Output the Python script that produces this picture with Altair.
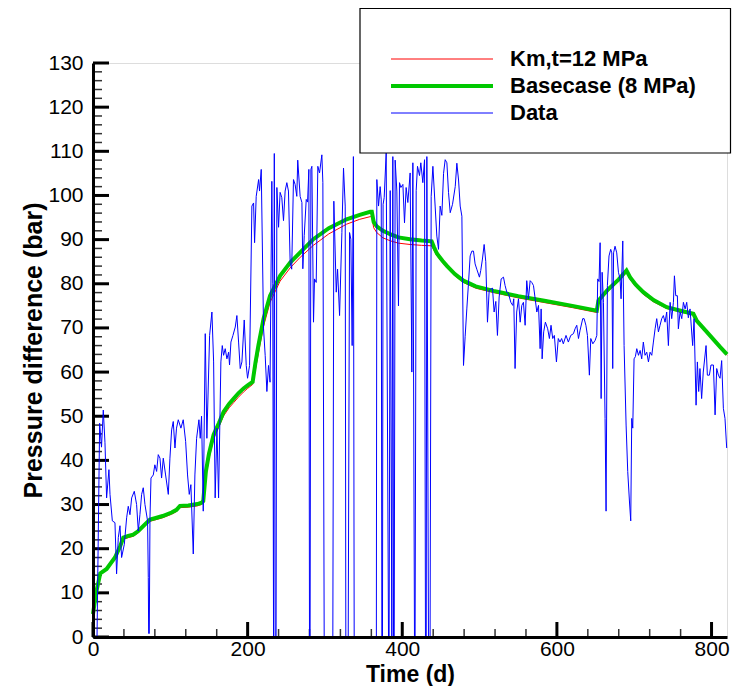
import altair as alt
import pandas as pd

FONT = "Liberation Sans"

series_names = ["Km,t=12 MPa", "Basecase (8 MPa)", "Data"]
series_colors = ["#ff0000", "#00c800", "#0000ff"]
series_widths = [1, 4, 1]

km12 = [(0,5.2),(4,10),(9.4,14.4),(17.6,15.4),(28.4,18),(35,20.3),(39.2,22.1),(45.6,22.5),(52,22.8),(58.6,23.6),
        (67.2,25.1),(73.7,26.2),(80,26.5),(90,27.0),(101.6,27.8),(108,28.4),(112.5,29.3),(123.2,29.4),(135,29.7),
        (140.4,30.0),(142.6,30.4),(146,36.3),(150,40.4),(156,44.9),(163,47.7),(169,50.1),(176,51.9),(182,53.1),
        (188,54.3),(194.7,55.5),(200,56.3),(206.5,57.2),(210,60.5),(214,64.4),(220.6,70.4),(229,75.8),(242,80.6),
        (255,83.6),(268,86.0),(285,88.7),(305,91.3),(328,93.5),(345,94.6),(358.5,95.2),(360.6,95.2),(363,92.7),
        (367,91.6),(375,90.4),(385,89.7),(395,89.2),(410,88.9),(425,88.7),(438,88.6),(441,87.6),(445,86.3),
        (452,84.8),(458,83.6),(468,81.8),(479,80.3),(495,79.0),(518,78.0),(550,76.8),(582,75.8),(620,74.6),
        (651.6,73.5),(653.7,75.8),(665,78.1),(680,80.6),(690,82.6),(694.6,81.0),(702,79.3),(711.8,77.6),
        (725,75.9),(742,74.4),(760,73.6),(776.5,72.9),(781,71.3),(793.8,68.9),(811,65.5),(820,63.8)]

basecase = [(0,5.2),(4,10),(9.4,14.4),(17.6,15.4),(28.4,18),(35,20.5),(39.2,22.5),(45.6,22.9),(52,23.2),(58.6,24),
            (67.2,25.5),(73.7,26.6),(80,26.9),(90,27.4),(101.6,28.2),(108,28.8),(112.5,29.7),(123.2,29.8),(135,30.1),
            (140.4,30.4),(142.6,30.8),(146,37.5),(150,41.5),(156,45.8),(163,48.5),(169,51),(176,52.8),(182,54),
            (188,55.2),(194.7,56.3),(200,57),(206.5,57.8),(210,62),(214,66.1),(220.6,72.1),(229,77.3),(242,81.8),
            (255,84.8),(268,87.1),(285,90.1),(305,92.6),(328,94.6),(345,95.6),(358.5,96.3),(360.6,96.3),(363,94),
            (367,93),(375,92),(385,91.2),(395,90.5),(410,90.1),(425,89.8),(438,89.6),(441,88.3),(445,86.8),
            (452,85.2),(458,84),(468,82.2),(479,80.7),(495,79.4),(518,78.4),(550,77.2),(582,76.2),(620,75),
            (651.6,73.9),(653.7,76.2),(665,78.5),(680,81),(690,83),(694.6,81.5),(702,79.8),(711.8,78.1),
            (725,76.3),(742,74.7),(760,73.9),(776.5,73.2),(781,71.6),(793.8,69.1),(811,65.7),(820,64)]

data_obs = [(4.0,0),(5.2,0),(8.6,48.4),(11,43),(13.3,51.4),(15.5,44),(17.6,31.5),(20.6,37.9),(22,32.3),(25,26.3),
            (28.4,25.9),(30.5,14.3),(32.7,22.5),(34.9,25.2),(37,18),(40.5,21),(43.5,27),(45.6,29.6),(47.8,27.7),
            (50,31.5),(53.4,33),(56.4,30),(58.6,24),(60.7,27.7),(62.9,32.3),(65,33.8),(67.2,30),(70.6,26.3),
            (71.5,13.5),(72.0,0.8),(72.8,0.8),(73.7,27),(75,36),(78,36.7),(80,39),(82.3,37.5),(84.4,41.3),
            (86.6,40.5),(88.7,36),(90.9,40.5),(93.9,36.7),(97.4,32.3),(99.5,40.5),(101.7,46.9),(103.8,48.8),
            (106,42.8),(108,47.3),(110.3,49.2),(113.7,47.3),(116.7,49.2),(119.8,44.3),(122.3,36.7),(124.5,32.3),
            (126.6,34.5),(129.7,18.8),(131.8,36.7),(134,45),(137,49.2),(138.7,45),(140.4,50),(142.6,28.5),
            (145.2,68.7),(147.3,45),(150.8,68.3),(153.8,73.6),(156,62.3),(158,31.5),(160.3,47.3),(162.4,31.5),
            (165.4,62.3),(167.2,66),(168.9,63.8),(171,65.3),(173.2,63),(175.4,64.5),(176.6,61.6),(178.4,66.8),
            (181,68.3),(184,70.2),(186.1,72.8),(188.3,66.8),(190.4,60.8),(192.6,62.3),(195.6,71.8),(198.2,61.5),
            (199.9,58.6),(202.5,61.5),(205.5,97.6),(207.7,98.3),(209,89.3),(211.1,99.8),(214.2,103.6),(215.4,101),
            (217.6,105.9),(220.6,69.8),(222.7,63.8),(224.9,55.6),(227,61.5),(229,57.7),(231.3,103.2),(232.5,80),
            (233.5,0),(234.5,109.5),(235.6,0),(236.8,0),(237.8,101.8),(240,92.8),(242,100.7),(244.2,99.5),
            (246.4,94.3),(248.5,101),(250.7,102.9),(252.8,101),(255,84.8),(257,83.3),(259.3,103.6),(261.4,102.5),
            (263.6,99.8),(264.8,108),(267.9,99.8),(270.2,98.4),(271.4,83.4),(273.2,90.9),(275.8,99.1),(277.5,98.5),
            (279.2,105.9),(280,0),(280.8,0),(281.8,105.9),(283.1,106.6),(285.2,71.3),(286.5,81.1),(288.7,80.3),
            (290.8,106.6),(293,105.1),(296,109.2),(297.3,102.9),(299,0),(310.2,0),(311.5,98.7),(314.6,78.1),
            (316.3,83.3),(318.9,72.8),(321.9,91.6),(324,106.2),(326.2,97.6),(327,0),(330.1,0),(331.8,91.6),
            (333.5,90.1),(335.2,66),(336.8,108.8),(337.8,0),(366.5,0),(367.1,103.6),(369.3,97.6),(371.4,102),
            (372.8,99),(373.6,0),(374.4,0),(375.2,98),(376.6,99.5),(379.2,109.6),(382.2,0),(383,0),(384.4,101.1),
            (386.5,0),(387.8,108.8),(388.7,0),(389.6,0),(390.8,108),(393,101),(395.1,75),(396.4,102.9),
            (398.2,101.8),(400.8,102.5),(402.9,93.8),(405,101.8),(407.2,98.4),(410.2,105.1),(412.4,60),
            (413.7,107.4),(415.8,0),(416.6,0),(418,101.1),(419.7,106.6),(422.3,104.5),(424,107.4),(426.6,102.9),
            (428.8,108.1),(430,0),(431,0),(431.8,108.8),(433.9,0),(436,0),(437.4,99.8),(439.6,106.6),(442.5,97.6),
            (444.7,90.8),(446.9,87.8),(449,97.6),(451.2,95.5),(453.4,105),(455.5,108.1),(457.7,107.4),
            (459.8,100.7),(462,96.1),(465,98),(468.5,102),(470.6,107.3),(472.8,103.5),(474.9,97.6),(477.1,95.3),
            (479.2,61.5),(481.3,68),(483.5,74.3),(485.6,80),(487.8,86.3),(490,87.4),(492.1,87.4),(494.2,84.5),
            (496.4,83.3),(499.8,81.5),(501.5,83),(503.7,85.6),(505.9,88.9),(508,85),(510.2,71.3),(512.4,78.5),
            (514.5,78.8),(516.7,79),(518.8,73.6),(521,76),(523.1,68.3),(525.3,77),(527.9,81.1),(530.9,81.5),
            (533,79.6),(535.2,78.1),(537.4,77.8),(540.4,75.8),(542.9,75.1),(544.2,76.6),(545.9,60.8),(548,73.6),
            (550.3,76.6),(552.5,71.3),(554.6,75.1),(556.7,75.8),(558.9,70.6),(561,80.7),(563.2,76.6),(565.4,80.7),
            (567.5,80.3),(569.7,79.6),(571.9,76.6),(574,73.6),(576.2,75.1),(578.3,65.3),(579.6,74.3),(580.9,63),
            (582.9,69.1),(585.1,71.3),(588.1,69.8),(590.3,67.6),(592.4,70.6),(594.6,67.6),(596.7,68.3),
            (599.4,62.3),(601.8,67.6),(604,66.8),(606.1,67.6),(608.3,66.4),(611.8,68.3),(614.8,66.8),(617.9,68.3),
            (621.4,68.7),(623.5,69.8),(625.7,70.6),(627.9,67.6),(630,69.5),(633.4,72.1),(635.2,72.1),(637.5,70.6),
            (639.5,68.3),(642,59.3),(643.8,67.6),(646.5,66.4),(649.5,67.2),(651.6,68.3),(652.8,81.1),(654.5,80.5),
            (655.9,89.3),(657.2,54),(658.5,82.6),(660.2,75.8),(662.3,49.5),(663.6,28.5),(665.3,79.6),(667.4,86.3),
            (669.6,87.8),(671,87),(672.2,60.8),(673.3,87),(675.2,88.5),(677.4,87),(679.6,82.6),(681.7,81.1),
            (683,76.6),(685.2,89.7),(686.9,66),(689.5,48),(691.6,37.5),(693.8,30.8),(695.5,26.3),(696.8,49.5),
            (698.1,47.3),(699.8,63),(701.5,63.5),(703.3,65.3),(705.5,63.8),(707.6,64.9),(709.7,63),(711.8,66.8),
            (714,63.8),(716.2,64.5),(718.4,62.3),(720.5,64.5),(722.7,63.8),(724.8,66.8),(727,69.8),(729.1,72.1),
            (731.3,69.1),(733.4,70.6),(735.6,72.1),(737.7,72.8),(739.9,71.3),(742,73.6),(744.2,66),(746.4,75.8),
            (748.5,72.1),(750.7,75.8),(752,81.8),(753.7,77.3),(755.8,77.3),(757.1,69.8),(759.3,73.6),(761.5,72.1),
            (763.6,75.8),(765.8,74.3),(767.9,75.8),(770,72.3),(772.2,74.3),(775.6,66),(777.4,72.1),(780,52.5),
            (781.7,62.3),(783.4,55.6),(785,60.8),(787.2,54),(789.3,60),(792.9,66),(794.6,59.3),(797.2,59.3),
            (799.3,61.6),(802.4,61.6),(804.6,50.3),(806.7,60.8),(808.9,59.3),(811,58.6),(813.1,62.6),(815.3,51.8),
            (817.4,49.5),(819.6,42.8)]

y_major = list(range(0, 131, 10))
y_minor = [v for v in range(0, 131, 2) if v % 10]
x_major = [0, 200, 400, 600, 800]
x_minor = [v for v in range(40, 821, 40) if v % 200]

W, H = 634, 574
xs = alt.Scale(domain=[0, 820], nice=False, zero=False)
ys = alt.Scale(domain=[0, 130], nice=False, zero=False)

y_axis = alt.Axis(values=y_major, ticks=False, tickSize=0, grid=False, domain=True, domainColor="black",
                  domainWidth=3, labelFont=FONT, labelFontSize=21, labelColor="black", labelPadding=10,
                  labelFlush=False, labelBaseline="middle", zindex=1,
                  title="Pressure difference (bar)", titleFont=FONT, titleFontSize=25, titleFontWeight="bold",
                  titleColor="black", titleAngle=270, titleX=-60, titleY=H / 2, titleAlign="center",
                  titleBaseline="middle")
x_axis = alt.Axis(values=x_major, ticks=False, tickSize=0, grid=False, domain=True, domainColor="black",
                  domainWidth=3, labelFont=FONT, labelFontSize=21, labelColor="black", labelPadding=18,
                  labelFlush=False, labelBaseline="alphabetic", zindex=1,
                  title="Time (d)", titleFont=FONT, titleFontSize=23, titleFontWeight="bold",
                  titleColor="black", titleX=W / 2, titleY=44, titleAlign="center", titleBaseline="alphabetic")

X = lambda f: alt.X(f, scale=xs, axis=x_axis)
Y = lambda f: alt.Y(f, scale=ys, axis=y_axis)

# inward ticks
ytick_major = alt.Chart(pd.DataFrame({"v": y_major})).mark_rule(color="black", strokeWidth=3).encode(
    y=Y("v:Q"), x=alt.value(0), x2=alt.value(16))
ytick_minor = alt.Chart(pd.DataFrame({"v": y_minor})).mark_rule(color="#333333", strokeWidth=1.5).encode(
    y=Y("v:Q"), x=alt.value(0), x2=alt.value(9))
xtick_major = alt.Chart(pd.DataFrame({"t": x_major})).mark_rule(color="black", strokeWidth=3).encode(
    x=X("t:Q"), y=alt.value(H), y2=alt.value(H - 15))
xtick_minor = alt.Chart(pd.DataFrame({"t": x_minor})).mark_rule(color="#333333", strokeWidth=1.5).encode(
    x=X("t:Q"), y=alt.value(H), y2=alt.value(H - 8))


def line_layer(points, color, width):
    df = pd.DataFrame(points, columns=["t", "v"])
    return alt.Chart(df).mark_line(color=color, strokeWidth=width).encode(x=X("t:Q"), y=Y("v:Q"))


lines = [line_layer(p, c, w) for p, c, w in zip([km12, basecase, data_obs], series_colors, series_widths)]

one = pd.DataFrame({"k": [0]})
legend_box = alt.Chart(one).mark_rect(fill="white", stroke="black", strokeWidth=1.2).encode(
    x=alt.value(267), x2=alt.value(637.5), y=alt.value(-54.5), y2=alt.value(90))

row_line_y = [-4, 23, 50]
row_text_y = [3, 30, 57]
legend_layers = [legend_box]
for name, color, width, ly, ty in zip(series_names, series_colors, series_widths, row_line_y, row_text_y):
    legend_layers.append(alt.Chart(one).mark_rule(color=color, strokeWidth=width).encode(
        x=alt.value(298), x2=alt.value(400), y=alt.value(ly)))
    legend_layers.append(alt.Chart(pd.DataFrame({"label": [name]})).mark_text(
        align="left", baseline="alphabetic", font=FONT, fontSize=22, fontWeight="bold", color="black").encode(
        x=alt.value(417), y=alt.value(ty), text="label:N"))

chart = alt.layer(ytick_major, ytick_minor, xtick_major, xtick_minor, *lines, *legend_layers).properties(
    width=W, height=H,
    autosize=alt.AutoSizeParams(type="none"),
    padding={"left": 85, "top": 55, "right": 5, "bottom": 49},
).configure_view(stroke=None).configure(background="white")

chart.save("out.html", embed_options={"renderer": "svg", "actions": False})
